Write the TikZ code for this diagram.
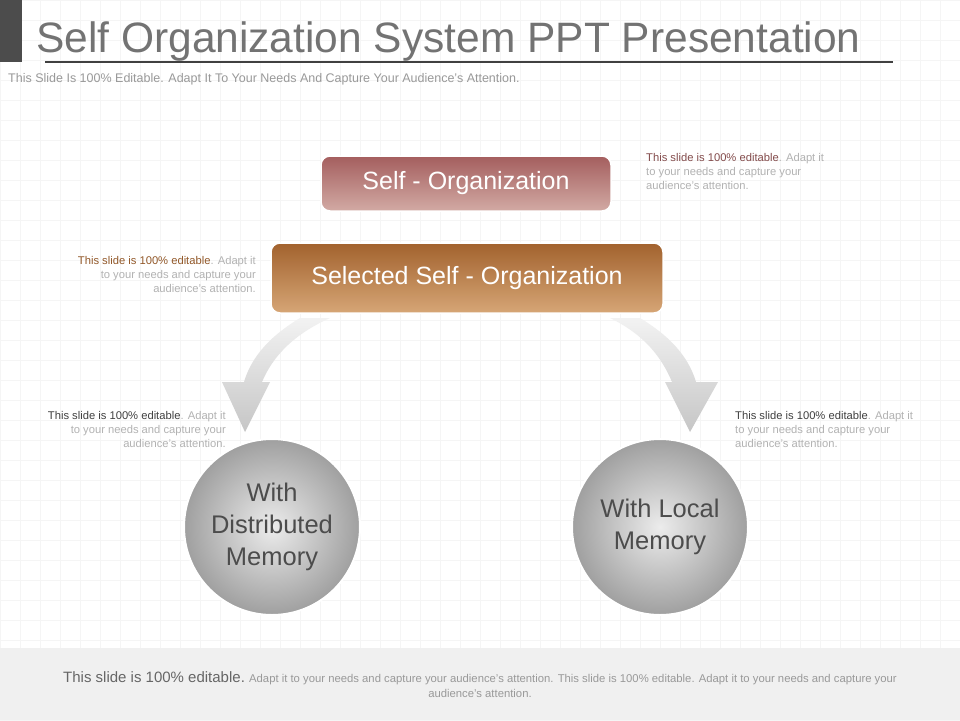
\documentclass[tikz,border=0pt]{standalone}
\usepackage{fontspec}
\setmainfont{Liberation Sans}
\definecolor{mauveT}{HTML}{A45E5E}
\definecolor{mauveB}{HTML}{D2AAA4}
\definecolor{brownT}{HTML}{A2622E}
\definecolor{brownB}{HTML}{D6A676}
\begin{document}
\begin{tikzpicture}[x=1pt,y=-1pt,
  note/.style={font=\fontsize{11.2}{14}\selectfont,text=gray!60,align=left,inner sep=0pt},
  rnote/.style={note,align=right},
  box/.style={rounded corners=9pt,draw=white,line width=1.5pt,text=white,font=\fontsize{25}{27}\selectfont},
  circ/.style={circle,draw=white,line width=2pt,inner color=gray!15,outer color=gray!75,text=black!70,align=center,font=\fontsize{25.5}{32}\selectfont,minimum size=176pt},
  arr/.style={top color=gray!10,bottom color=gray!45,draw=none}]
\useasboundingbox (0,0) rectangle (960,720);
\fill[white] (0,0) rectangle (960,720);
\foreach \i in {0,20,...,960} \draw[gray!8] (\i,0) -- (\i,720);
\foreach \i in {0,20,...,720} \draw[gray!8] (0,\i) -- (960,\i);
\fill[black!70] (0,0) rectangle (22,62);
\node[anchor=base west,inner sep=0,text=black!55,font=\fontsize{42.5}{42}\selectfont] (title) at (36,52) {Self Organization System PPT Presentation};
\draw[black!75,line width=1.2pt] (45,62) -- (893,62);
\node[anchor=base west,inner sep=0,text=gray!80,font=\fontsize{12.5}{12}\selectfont] (sub) at (8,82) {This Slide Is 100\% Editable. Adapt It To Your Needs And Capture Your Audience’s Attention.};
% arrows
\path[arr] (300,318) .. controls (272,335) and (252,355) .. (244,382) -- (222,382) -- (245,432) -- (270,382) -- (262,382) .. controls (272,358) and (292,335) .. (330,318) -- cycle;
\path[arr] (640,318) .. controls (668,335) and (688,355) .. (696,382) -- (718,382) -- (690,432) -- (665,382) -- (672,382) .. controls (662,358) and (645,335) .. (610,318) -- cycle;
\node[box,top color=mauveT,bottom color=mauveB,minimum width=290pt,minimum height=55pt] (b1) at (466,183.5) {Self - Organization};
\node[box,top color=brownT,bottom color=brownB,minimum width=392pt,minimum height=70pt] (b2) at (467,278) {Selected Self - Organization};
\node[circ] (c1) at (272,527) {With\\Distributed\\Memory};
\node[circ] (c2) at (660,527) {With Local\\Memory};
\node[note,anchor=north west] (n1) at (646,153) {\textcolor{mauveT!80!black}{This slide is 100\% editable}. Adapt it\\to your needs and capture your\\audience's attention.};
\node[rnote,anchor=north east] (n2) at (256,256) {\textcolor{brownT!90!black}{This slide is 100\% editable}. Adapt it\\to your needs and capture your\\audience's attention.};
\node[rnote,anchor=north east] (n3) at (226,411) {\textcolor{black!75}{This slide is 100\% editable}. Adapt it\\to your needs and capture your\\audience's attention.};
\node[note,anchor=north west] (n4) at (735,411) {\textcolor{black!75}{This slide is 100\% editable}. Adapt it\\to your needs and capture your\\audience's attention.};
\fill[gray!12] (0,648) rectangle (960,720);
\node[align=center,inner sep=0,text=gray!80,font=\fontsize{11.3}{15}\selectfont] (foot) at (480,685) {{\fontsize{15}{15}\selectfont\color{black!60}This slide is 100\% editable.} Adapt it to your needs and capture your audience's attention. This slide is 100\% editable. Adapt it to your needs and capture your\\audience's attention.};
\end{tikzpicture}
\end{document}
